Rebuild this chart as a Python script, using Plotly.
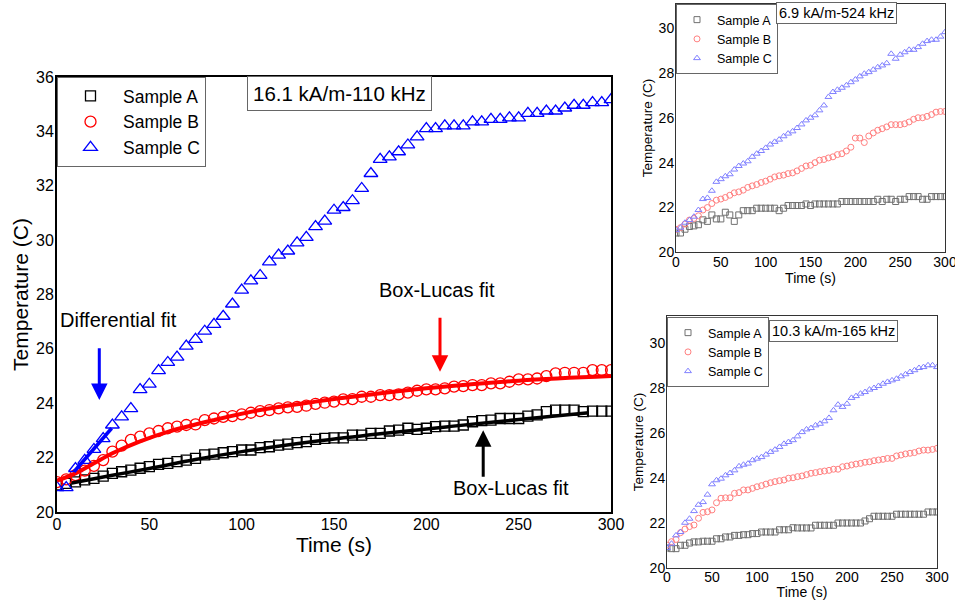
import plotly.graph_objects as go

FONT = "Liberation Sans, Arial, sans-serif"

TIME = [0, 5, 10, 15, 20, 25, 30, 35, 40, 45, 50, 55, 60, 65, 70, 75, 80, 85, 90, 95,
        100, 105, 110, 115, 120, 125, 130, 135, 140, 145, 150, 155, 160, 165, 170, 175,
        180, 185, 190, 195, 200, 205, 210, 215, 220, 225, 230, 235, 240, 245, 250, 255,
        260, 265, 270, 275, 280, 285, 290, 295, 300]

# ---- main panel: 16.1 kA/m - 110 kHz ----
MAIN_A = [21.00, 21.05, 21.11, 21.18, 21.24, 21.32, 21.42, 21.48, 21.54, 21.61, 21.67, 21.75,
          21.79, 21.85, 21.91, 21.97, 22.10, 22.13, 22.18, 22.22, 22.28, 22.28, 22.37, 22.40,
          22.46, 22.50, 22.55, 22.59, 22.67, 22.71, 22.73, 22.73, 22.83, 22.83, 22.89, 22.89,
          22.98, 23.01, 23.08, 23.04, 23.08, 23.14, 23.16, 23.16, 23.20, 23.32, 23.36, 23.38,
          23.44, 23.44, 23.44, 23.53, 23.57, 23.69, 23.75, 23.75, 23.75, 23.69, 23.71, 23.71, 23.71]
MAIN_B = [21.10, 21.20, 21.36, 21.52, 21.70, 21.91, 22.22, 22.44, 22.65, 22.77, 22.89, 22.98,
          23.08, 23.14, 23.20, 23.22, 23.38, 23.44, 23.50, 23.53, 23.59, 23.65, 23.71, 23.75,
          23.81, 23.85, 23.87, 23.91, 23.98, 24.02, 24.06, 24.14, 24.15, 24.24, 24.24, 24.30,
          24.30, 24.33, 24.39, 24.46, 24.51, 24.51, 24.55, 24.61, 24.63, 24.67, 24.67, 24.73,
          24.73, 24.79, 24.88, 24.88, 24.91, 25.00, 25.10, 25.12, 25.12, 25.12, 25.22, 25.22, 25.22]
MAIN_C = [20.90, 20.90, 21.60, 21.90, 22.30, 22.70, 23.20, 23.50, 23.80, 24.50, 24.70, 25.20,
          25.50, 25.70, 26.10, 26.35, 26.65, 26.90, 27.20, 27.65, 28.16, 28.50, 28.70, 29.20,
          29.45, 29.60, 29.90, 30.10, 30.50, 30.70, 31.10, 31.20, 31.45, 31.90, 32.45, 32.97,
          33.06, 33.25, 33.50, 33.80, 34.10, 34.10, 34.20, 34.20, 34.20, 34.35, 34.35, 34.44,
          34.44, 34.50, 34.50, 34.66, 34.66, 34.75, 34.75, 34.86, 34.96, 34.96, 35.06, 35.06, 35.17]

FIT_B_T = [0, 10, 20, 30, 45, 60, 85, 110, 140, 170, 200, 250, 300]
FIT_B_V = [21.15, 21.42, 21.79, 22.16, 22.60, 22.95, 23.38, 23.75, 24.06, 24.32, 24.55, 24.83, 25.00]
FIT_A_T = [8, 30, 50, 75, 100, 140, 175, 212, 250, 288]
FIT_A_V = [21.07, 21.35, 21.60, 21.93, 22.22, 22.60, 22.88, 23.14, 23.40, 23.65]
FIT_C_T = [9.2, 29.6]
FIT_C_V = [21.48, 23.08]

# ---- top inset: 6.9 kA/m - 524 kHz ----
TOP_A = [20.85, 20.85, 21.02, 21.14, 21.17, 21.22, 21.44, 21.37, 21.66, 21.48, 21.48, 21.78,
         21.66, 21.37, 21.66, 21.85, 21.85, 21.85, 21.96, 21.96, 21.96, 21.96, 21.96, 21.85,
         21.96, 22.08, 22.08, 22.08, 22.08, 22.15, 22.08, 22.15, 22.15, 22.15, 22.15, 22.15,
         22.15, 22.26, 22.26, 22.26, 22.26, 22.26, 22.26, 22.26, 22.26, 22.36, 22.26, 22.36,
         22.36, 22.26, 22.36, 22.36, 22.48, 22.48, 22.48, 22.36, 22.36, 22.48, 22.48, 22.48, 22.48]
TOP_B = [21.01, 21.09, 21.25, 21.43, 21.50, 21.62, 21.88, 21.99, 22.17, 22.32, 22.37, 22.44,
         22.54, 22.65, 22.69, 22.77, 22.89, 22.96, 23.02, 23.11, 23.17, 23.26, 23.36, 23.41,
         23.44, 23.51, 23.54, 23.63, 23.74, 23.85, 23.88, 24.00, 24.11, 24.14, 24.21, 24.26,
         24.36, 24.40, 24.52, 24.69, 25.10, 25.10, 24.90, 25.19, 25.33, 25.45, 25.52, 25.60,
         25.70, 25.70, 25.70, 25.74, 25.82, 25.94, 26.01, 26.01, 26.07, 26.15, 26.26, 26.29, 26.29]
TOP_C = [20.98, 21.09, 21.31, 21.43, 21.58, 21.88, 22.37, 22.42, 22.74, 23.14, 23.26, 23.39,
         23.48, 23.69, 23.85, 23.96, 24.06, 24.26, 24.40, 24.52, 24.66, 24.81, 24.93, 25.03,
         25.18, 25.30, 25.40, 25.55, 25.71, 25.89, 26.01, 26.12, 26.34, 26.56, 26.94, 27.16,
         27.26, 27.35, 27.46, 27.60, 27.72, 27.86, 27.98, 28.05, 28.16, 28.27, 28.35, 28.45,
         28.87, 28.65, 28.83, 28.94, 29.05, 29.05, 29.17, 29.32, 29.44, 29.50, 29.50, 29.64, 29.84]

# ---- bottom inset: 10.3 kA/m - 165 kHz ----
BOT_A = [20.89, 20.86, 20.86, 21.01, 21.01, 21.11, 21.16, 21.16, 21.19, 21.19, 21.19, 21.30,
         21.30, 21.38, 21.38, 21.45, 21.45, 21.48, 21.48, 21.53, 21.53, 21.60, 21.60, 21.60,
         21.60, 21.70, 21.70, 21.70, 21.79, 21.78, 21.78, 21.78, 21.78, 21.90, 21.90, 21.90,
         21.90, 21.90, 22.00, 22.00, 22.00, 22.00, 22.00, 22.00, 22.09, 22.19, 22.30, 22.30,
         22.30, 22.30, 22.30, 22.39, 22.39, 22.39, 22.39, 22.39, 22.39, 22.39, 22.49, 22.49, 22.49]
BOT_B = [21.02, 21.17, 21.27, 21.57, 21.73, 21.84, 21.91, 22.21, 22.47, 22.50, 22.58, 22.90,
         23.10, 23.12, 23.12, 23.32, 23.35, 23.47, 23.47, 23.54, 23.61, 23.66, 23.73, 23.79,
         23.84, 23.88, 23.91, 23.99, 24.01, 24.06, 24.09, 24.15, 24.21, 24.24, 24.28, 24.31,
         24.34, 24.39, 24.39, 24.50, 24.53, 24.58, 24.62, 24.65, 24.70, 24.72, 24.77, 24.80,
         24.83, 24.87, 24.87, 24.98, 25.02, 25.07, 25.10, 25.13, 25.20, 25.24, 25.24, 25.27, 25.32]
BOT_C = [20.89, 21.08, 21.45, 21.60, 22.01, 22.19, 22.53, 22.81, 22.93, 23.26, 23.72, 23.90,
         23.97, 24.12, 24.22, 24.34, 24.52, 24.59, 24.64, 24.79, 24.86, 24.93, 25.04, 25.16,
         25.26, 25.38, 25.52, 25.60, 25.68, 25.85, 26.04, 26.16, 26.22, 26.34, 26.41, 26.52,
         26.67, 27.01, 27.26, 27.16, 27.30, 27.56, 27.64, 27.75, 27.82, 27.93, 28.00, 28.09,
         28.19, 28.27, 28.34, 28.41, 28.52, 28.61, 28.71, 28.79, 28.89, 28.93, 29.01, 29.01, 28.93]

for arr in (MAIN_A, MAIN_B, MAIN_C, TOP_A, TOP_B, TOP_C, BOT_A, BOT_B, BOT_C):
    assert len(arr) == len(TIME), len(arr)

SERIES_NAMES = ["Sample A", "Sample B", "Sample C"]
MAIN_COLORS = ["black", "red", "blue"]
INSET_COLORS = ["#707070", "#ff8080", "#8080ff"]
SYMBOLS = ["square-open", "circle-open", "triangle-up-open"]
MAIN_SIZES = [10, 11, 12]

fig = go.Figure()

# main panel
for name, vals, col, sym, sz in zip(SERIES_NAMES, [MAIN_A, MAIN_B, MAIN_C], MAIN_COLORS, SYMBOLS, MAIN_SIZES):
    fig.add_trace(go.Scatter(x=TIME, y=vals, mode="markers", name=name,
                             marker=dict(symbol=sym, size=sz, color=col, line=dict(width=1.3, color=col)),
                             xaxis="x", yaxis="y", legend="legend"))
fig.add_trace(go.Scatter(x=FIT_B_T, y=FIT_B_V, mode="lines", line=dict(color="red", width=4, shape="spline"),
                         showlegend=False, xaxis="x", yaxis="y"))
fig.add_trace(go.Scatter(x=FIT_A_T, y=FIT_A_V, mode="lines", line=dict(color="black", width=3.5, shape="spline"),
                         showlegend=False, xaxis="x", yaxis="y"))
fig.add_trace(go.Scatter(x=FIT_C_T, y=FIT_C_V, mode="lines", line=dict(color="blue", width=3.5),
                         showlegend=False, xaxis="x", yaxis="y"))

# insets
for vals_set, xa, ya, lg in [([TOP_A, TOP_B, TOP_C], "x2", "y2", "legend2"),
                             ([BOT_A, BOT_B, BOT_C], "x3", "y3", "legend3")]:
    for name, vals, col, sym in zip(SERIES_NAMES, vals_set, INSET_COLORS, SYMBOLS):
        fig.add_trace(go.Scatter(x=TIME, y=vals, mode="markers", name=name,
                                 marker=dict(symbol=sym, size=6, color=col, line=dict(width=1, color=col)),
                                 xaxis=xa, yaxis=ya, legend=lg))

W, H = 955, 600
def px_x(a, b):
    return [a / W, b / W]
def px_y(top, bottom):
    return [(H - bottom) / H, (H - top) / H]

main_ax = dict(showline=True, mirror=True, linecolor="black", linewidth=2, ticks="", automargin=False,
               showgrid=False, zeroline=False, ticklabeloverflow="allow",
               tickfont=dict(size=16, color="black", family=FONT))
inset_ax = dict(showline=True, mirror=True, linecolor="#333", linewidth=1, ticks="", automargin=False,
                showgrid=False, zeroline=False, ticklabeloverflow="allow",
                tickfont=dict(size=14, color="black", family=FONT))

fig.update_layout(
    width=W, height=H,
    margin=dict(l=0, r=0, t=0, b=0, autoexpand=False),
    paper_bgcolor="white", plot_bgcolor="white",
    font=dict(family=FONT, color="black"),
    xaxis=dict(main_ax, domain=px_x(57, 611), range=[0, 300], dtick=50, anchor="y", ticklabelstandoff=-3,
               title=dict(text="Time (s)", font=dict(size=21), standoff=2)),
    yaxis=dict(main_ax, domain=px_y(77, 512), range=[20, 36], dtick=2, anchor="x", ticklabelstandoff=-2,
               title=dict(text="Temperature (C)", font=dict(size=21), standoff=2)),
    xaxis2=dict(inset_ax, domain=px_x(676, 945), range=[0, 300], dtick=50, anchor="y2", ticklabelstandoff=-3,
                title=dict(text="Time (s)", font=dict(size=14), standoff=0)),
    yaxis2=dict(inset_ax, domain=px_y(4, 252), range=[20, 31.1], dtick=2, anchor="x2", ticklabelstandoff=-2,
                title=dict(text="Temperature (C)", font=dict(size=13.5), standoff=2)),
    xaxis3=dict(inset_ax, domain=px_x(667, 937), range=[0, 300], dtick=50, anchor="y3", ticklabelstandoff=-4,
                title=dict(text="Time (s)", font=dict(size=14), standoff=0)),
    yaxis3=dict(inset_ax, domain=px_y(316, 568), range=[20, 31.2], dtick=2, anchor="x3", ticklabelstandoff=-2,
                title=dict(text="Temperature (C)", font=dict(size=13.5), standoff=2)),
    legend=dict(x=57 / W, y=(H - 77) / H, xanchor="left", yanchor="top",
                bordercolor="#666", borderwidth=1, bgcolor="white",
                font=dict(size=17.5, family=FONT), itemwidth=55, tracegroupgap=0),
    legend2=dict(x=676 / W, y=(H - 4) / H, xanchor="left", yanchor="top",
                 bordercolor="#666", borderwidth=1, bgcolor="white",
                 font=dict(size=12.5, family=FONT), itemwidth=30),
    legend3=dict(x=667 / W, y=(H - 317) / H, xanchor="left", yanchor="top",
                 bordercolor="#666", borderwidth=1, bgcolor="white",
                 font=dict(size=12.5, family=FONT), itemwidth=30),
)

# boxed condition labels
fig.add_annotation(text="16.1 kA/m-110 kHz", xref="paper", yref="paper", x=339 / W, y=(H - 93) / H,
                   xanchor="center", yanchor="middle", showarrow=False, font=dict(size=20.5),
                   bordercolor="#666", borderwidth=1, borderpad=5, bgcolor="white")
fig.add_annotation(text="6.9 kA/m-524 kHz", xref="paper", yref="paper", x=836.5 / W, y=(H - 13.5) / H,
                   xanchor="center", yanchor="middle", showarrow=False, font=dict(size=14.5),
                   bordercolor="#666", borderwidth=1, borderpad=2, bgcolor="white")
fig.add_annotation(text="10.3 kA/m-165 kHz", xref="paper", yref="paper", x=833 / W, y=(H - 331) / H,
                   xanchor="center", yanchor="middle", showarrow=False, font=dict(size=14.5),
                   bordercolor="#666", borderwidth=1, borderpad=2, bgcolor="white")

# fit labels and arrows
fig.add_annotation(text="Differential fit", x=0.5, y=27.06, xref="x", yref="y", xanchor="left",
                   yanchor="middle", showarrow=False, font=dict(size=20))
fig.add_annotation(text="Box-Lucas fit", x=206, y=28.16, xref="x", yref="y", xanchor="center",
                   yanchor="middle", showarrow=False, font=dict(size=20))
fig.add_annotation(text="Box-Lucas fit", x=246, y=20.88, xref="x", yref="y", xanchor="center",
                   yanchor="middle", showarrow=False, font=dict(size=20))
for (xh, yh, yt, col) in [(22.9, 24.12, 26.08, "blue"), (207.4, 25.16, 27.2, "red"), (230.8, 23.01, 21.24, "black")]:
    fig.add_annotation(x=xh, y=yh, ax=xh, ay=yt, xref="x", yref="y", axref="x", ayref="y",
                       text="", showarrow=True, arrowhead=2, arrowsize=1.1, arrowwidth=3, arrowcolor=col)

fig.write_html("out.html")
